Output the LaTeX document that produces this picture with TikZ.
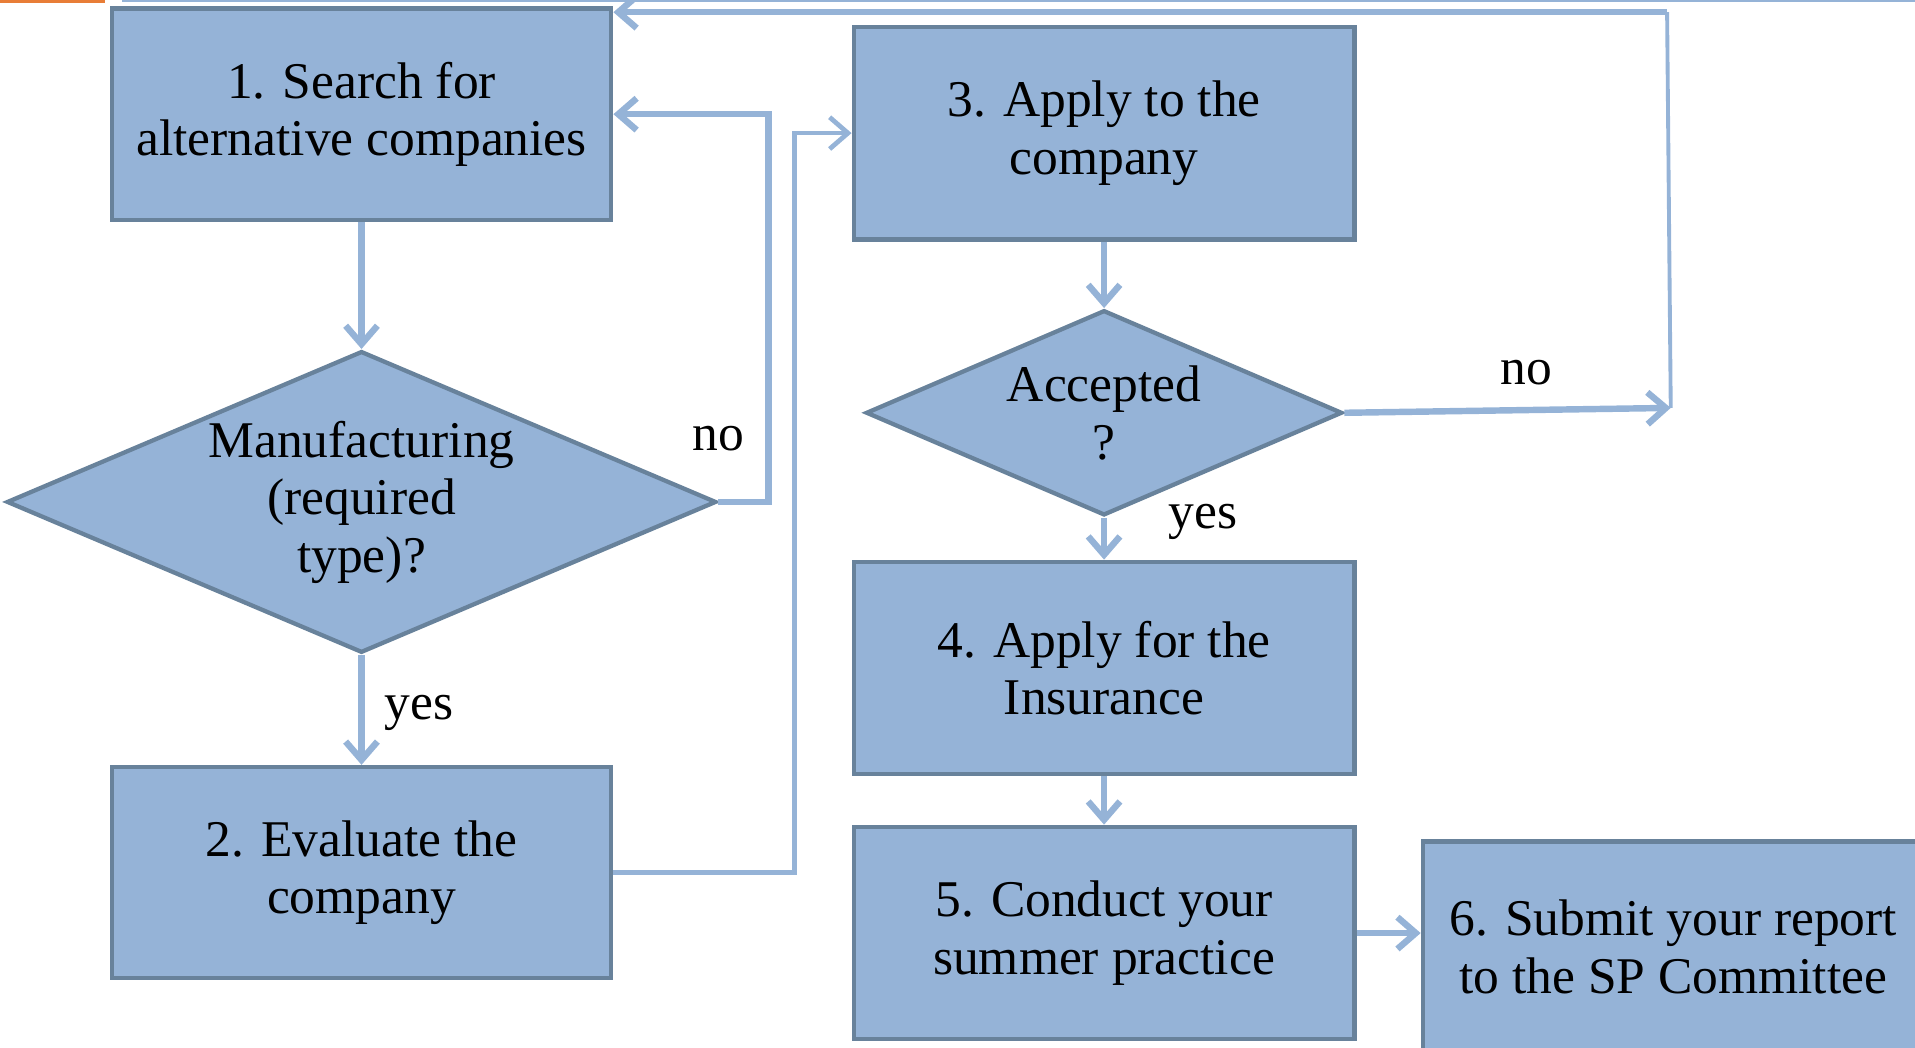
\documentclass[tikz,border=0pt]{standalone}
\usepackage{fontspec}
\setmainfont{Liberation Serif}
\usepackage{xcolor}
\usetikzlibrary{positioning,shapes.geometric,arrows.meta}
\definecolor{boxfill}{HTML}{95B3D7}
\definecolor{boxline}{HTML}{68829B}
\definecolor{flowline}{HTML}{95B3D7}
\definecolor{topbar}{HTML}{E87D37}

\begin{document}
\begin{tikzpicture}[on grid, font=\fontsize{12}{13.4}\selectfont,
  stepbox/.style={rectangle, draw=boxline, fill=boxfill, line width=1pt, minimum width=4.09cm, minimum height=1.73cm, align=center, inner sep=0pt},
  check/.style={diamond, draw=boxline, fill=boxfill, line width=1pt, align=center, inner sep=0pt},
  flow/.style={draw=flowline, line width=1.5pt, -{Straight Barb[length=1.5mm,width=2.6mm]}},
  lbl/.style={inner sep=0pt}]
\useasboundingbox (0,0) rectangle (15.68,-8.58);
\clip (0,0) rectangle (15.68,-8.58);
\draw[topbar, line width=0.8pt] (0,-0.01) -- (0.86,-0.01);
\draw[flowline, line width=0.6pt] (1.0,-0.01) -- (15.68,-0.01);
% left column
\node (search) [stepbox] at (2.96,-0.935) {1. Search for\\alternative companies};
\node (manuf) [check, aspect=2.35, minimum width=5.81cm, minimum height=2.47cm, below=3.175cm of search] {Manufacturing\\(required\\type)?};
\node (evaluate) [stepbox, below=3.035cm of manuf] {2. Evaluate the\\company};
% right column
\node (apply) [stepbox, minimum width=4.1cm, minimum height=1.74cm] at (9.04,-1.09) {3. Apply to the\\company};
\node (accepted) [check, aspect=2.32, minimum width=3.9cm, minimum height=1.68cm, below=2.29cm of apply] {Accepted\\?};
\node (insurance) [stepbox, minimum width=4.1cm, minimum height=1.74cm, below=2.09cm of accepted] {4. Apply for the\\Insurance};
\node (conduct) [stepbox, minimum width=4.1cm, minimum height=1.74cm, below=2.17cm of insurance] {5. Conduct your\\summer practice};
\node (submit) [stepbox, minimum width=4.1cm, below right=0.115cm and 4.66cm of conduct] {6. Submit your report\\to the SP Committee};
\coordinate (ret) at (13.68,-3.34);
\coordinate (top) at (13.65,-0.10);
% connectors
\draw[flow] (search) -- (manuf);
\draw[flow] (manuf) -- (evaluate);
\draw[flow] (manuf.east) -- ++(0.41,0) |- (search.east);
\draw[flow, line width=1.1pt] (evaluate.east) -- ++(1.48,0) |- (apply.west);
\draw[flow] (apply) -- (accepted);
\draw[flow] (accepted) -- (insurance);
\draw[flow] (accepted.east) -- (ret);
\draw[flowline, line width=0.9pt] (ret) -- (top);
\draw[flow] (top) -- (search.east |- top);
\draw[flow] (insurance) -- (conduct);
\draw[flow] (conduct.east) -- (submit.west |- conduct.east);
% labels
\node[lbl] at (5.88,-3.59) {no};
\node[lbl] at (3.43,-5.84) {yes};
\node[lbl] at (12.5,-3.05) {no};
\node[lbl] at (9.85,-4.27) {yes};
\end{tikzpicture}
\end{document}
